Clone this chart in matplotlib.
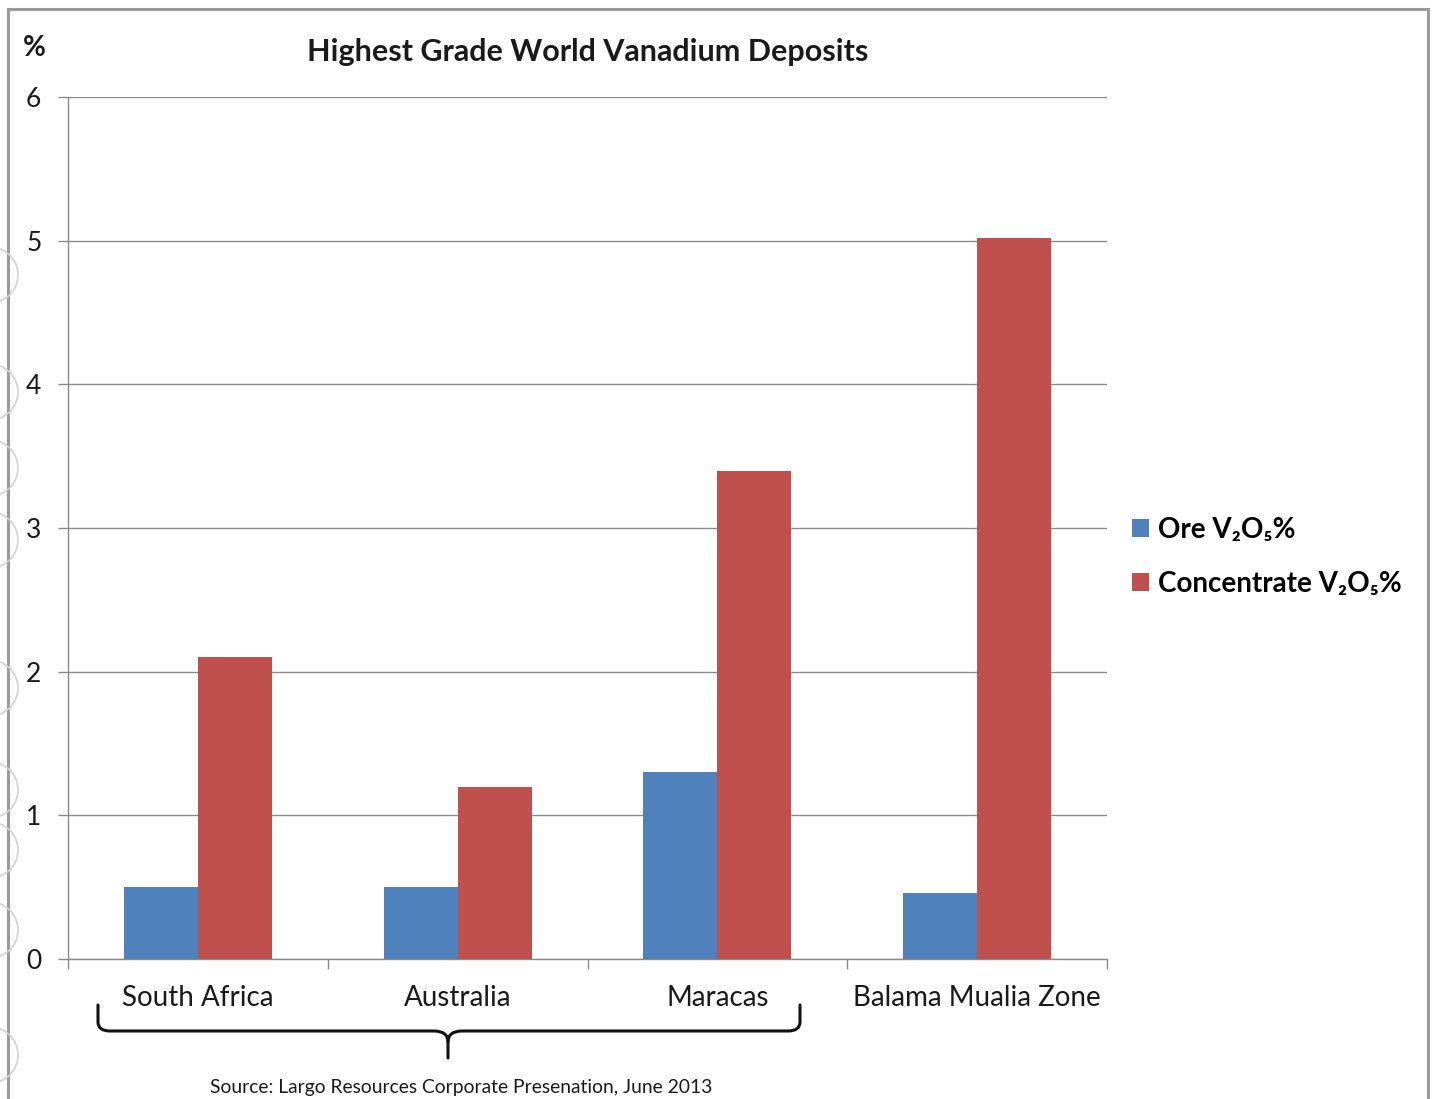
import matplotlib
matplotlib.use("Agg")
import matplotlib.pyplot as plt
import numpy as np
from matplotlib.patches import Rectangle, Circle, PathPatch
from matplotlib.path import Path

# Data
categories = ["South Africa", "Australia", "Maracas", "Balama Mualia Zone"]
ore_v2o5 = [0.50, 0.50, 1.30, 0.46]
concentrate_v2o5 = [2.10, 1.20, 3.40, 5.02]
series_names = ["Ore V\u2082O\u2085%", "Concentrate V\u2082O\u2085%"]
y_ticks = [0, 1, 2, 3, 4, 5, 6]
title = "Highest Grade World Vanadium Deposits"
source_note = "Source: Largo Resources Corporate Presenation, June 2013"

W, H = 1434, 1099
DPI = 100
FONT = ["Lato", "DejaVu Sans"]
plt.rcParams["font.family"] = FONT

BLUE = "#4F81BD"
RED = "#C0504D"
GRID = "#8a8a8a"
TXT = "#1a1a1a"

fig = plt.figure(figsize=(W / DPI, H / DPI), dpi=DPI)
fig.patch.set_facecolor("white")


def inch(x, y):
    """Pixel position (origin top-left) to inches for dpi_scale_trans."""
    return (x / DPI, (H - y) / DPI)


ax = fig.add_axes([68 / W, 1 - 959 / H, (1107 - 68) / W, (959 - 97) / H])

x = np.arange(len(categories))
bw = 0.285
b_ore = ax.bar(x - bw / 2, ore_v2o5, width=bw, color=BLUE, label=series_names[0], zorder=3)
b_con = ax.bar(x + bw / 2, concentrate_v2o5, width=bw, color=RED, label=series_names[1], zorder=3)

ax.set_xlim(-0.5, len(categories) - 0.5)
ax.set_ylim(0, 6)
ax.set_yticks(y_ticks)
ax.set_yticklabels([str(v) for v in y_ticks])
ax.yaxis.grid(True, color=GRID, linewidth=1.0, zorder=0)
ax.set_axisbelow(True)

for s in ["top", "right"]:
    ax.spines[s].set_visible(False)
for s in ["left", "bottom"]:
    ax.spines[s].set_color(GRID)
    ax.spines[s].set_linewidth(1.0)

ax.tick_params(axis="y", direction="out", length=7.2, width=1.0, color=GRID,
               labelsize=19, labelcolor=TXT, pad=12)
ax.set_xticks(x)
ax.set_xticklabels(categories)
ax.tick_params(axis="x", which="major", length=0, labelsize=20, labelcolor=TXT, pad=19)
ax.set_xticks(np.arange(-0.5, len(categories)), minor=True)
ax.tick_params(axis="x", which="minor", direction="out", length=7.2, width=1.0, color=GRID)

# Title and unit
fig.text(588 / W, 1 - 52 / H, title, ha="center", va="center",
         fontsize=22, fontweight="bold", color=TXT)
fig.text(34 / W, 1 - 48 / H, "%", ha="center", va="center",
         fontsize=20, fontweight="bold", color=TXT)

# Legend
ax.legend(handles=[b_ore, b_con], loc="center left",
          bbox_to_anchor=(1132 / W, 1 - 557 / H), bbox_transform=fig.transFigure,
          frameon=False, prop={"weight": "bold", "size": 20, "family": FONT},
          handlelength=0.62, handleheight=0.62, handletextpad=0.3,
          labelspacing=1.0, borderpad=0, borderaxespad=0)

# Curly bracket grouping the first three deposits
Mv, C3 = Path.MOVETO, Path.CURVE3
Lt = Path.LINETO
pts = [(98, 1005), (98, 1022), (98, 1031), (110, 1031), (434, 1031),
       (448, 1031), (448, 1042), (448, 1058)]
codes = [Mv, Lt, C3, C3, Lt, C3, C3, Lt]
pts_r = [(800, 1005), (800, 1022), (800, 1031), (788, 1031), (462, 1031),
         (448, 1031), (448, 1042)]
codes_r = [Mv, Lt, C3, C3, Lt, C3, C3]
for p, c in ((pts, codes), (pts_r, codes_r)):
    path = Path([inch(*q) for q in p], c)
    fig.patches.append(PathPatch(path, fill=False, edgecolor="#111111", linewidth=2.2,
                                 transform=fig.dpi_scale_trans, capstyle="round",
                                 joinstyle="round"))

fig.text(461 / W, 1 - 1087 / H, source_note, ha="center", va="center",
         fontsize=13.9, color=TXT)

# Outer frame
fig.patches.append(Rectangle(inch(8, 1110), (1428 - 8) / DPI, (1110 - 9) / DPI,
                             fill=False, edgecolor="#9a9a9a", linewidth=2.2,
                             transform=fig.dpi_scale_trans))

# Faint ornaments along the left margin
for cy in [275, 392, 468, 540, 688, 790, 850, 930, 1055]:
    fig.patches.append(Circle(inch(-10, cy), 28 / DPI, fill=False, edgecolor="#d2d2d2",
                              linewidth=1.2, transform=fig.dpi_scale_trans))

fig.savefig("out.png", dpi=DPI, facecolor="white")
